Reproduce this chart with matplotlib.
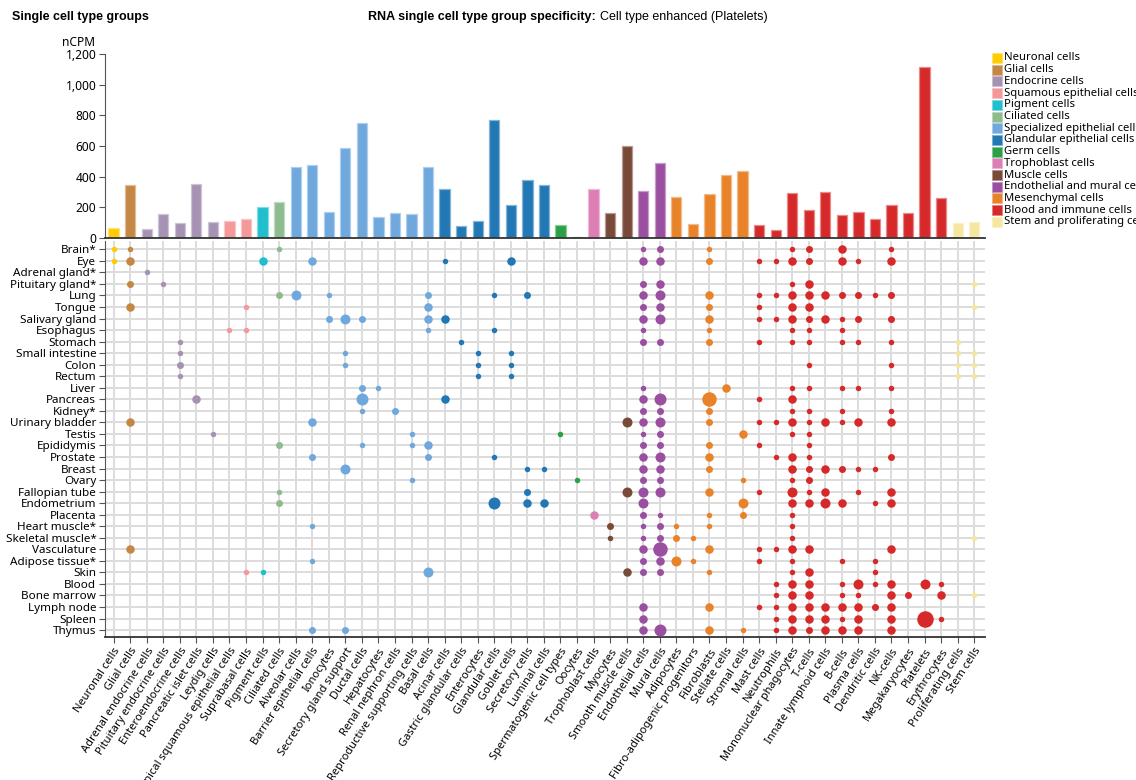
import matplotlib
matplotlib.use('Agg')
import matplotlib.pyplot as plt
from matplotlib.patches import Rectangle
from matplotlib.colors import to_rgb

# cell types along the x axis
cell_types = ['Neuronal cells', 'Glial cells', 'Adrenal endocrine cells', 'Pituitary endocrine cells',
              'Enteroendocrine cells', 'Pancreatic islet cells', 'Leydig cells',
              'Apical squamous epithelial cells', 'Suprabasal cells', 'Pigment cells', 'Ciliated cells',
              'Alveolar cells', 'Barrier epithelial cells', 'Ionocytes', 'Secretory gland support',
              'Ductal cells', 'Hepatocytes', 'Renal nephron cells', 'Reproductive supporting cells',
              'Basal cells', 'Acinar cells', 'Gastric glandular cells', 'Enterocytes', 'Glandular cells',
              'Goblet cells', 'Secretory cells', 'Luminal cells', 'Spermatogenic cell types', 'Oocytes',
              'Trophoblast cells', 'Myocytes', 'Smooth muscle cells', 'Endothelial cells', 'Mural cells',
              'Adipocytes', 'Fibro-adipogenic progenitors', 'Fibroblasts', 'Stellate cells', 'Stromal cells',
              'Mast cells', 'Neutrophils', 'Mononuclear phagocytes', 'T-cells', 'Innate lymphoid cells',
              'B-cells', 'Plasma cells', 'Dendritic cells', 'NK-cells', 'Megakaryocytes', 'Platelets',
              'Erythrocytes', 'Proliferating cells', 'Stem cells']

group_names = ['Neuronal cells', 'Glial cells', 'Endocrine cells', 'Squamous epithelial cells',
               'Pigment cells', 'Ciliated cells', 'Specialized epithelial cells',
               'Glandular epithelial cells', 'Germ cells', 'Trophoblast cells', 'Muscle cells',
               'Endothelial and mural cells', 'Mesenchymal cells', 'Blood and immune cells',
               'Stem and proliferating cells']
group_colors = ['#ffcc00', '#c58744', '#a693b3', '#f4989a', '#1fbfce', '#8fbc8f', '#6fa8dc',
                '#2277b5', '#2ca045', '#dd7fb5', '#7a4a38', '#9a4fa0', '#e8832a', '#d62a2a', '#f5e6a0']

# group of each cell type
cell_groups = [0, 1, 2, 2, 2, 2, 2, 3, 3, 4, 5,
               6, 6, 6, 6, 6, 6, 6, 6, 6,
               7, 7, 7, 7, 7, 7, 7, 8, 8, 9, 10, 10, 11, 11,
               12, 12, 12, 12, 12,
               13, 13, 13, 13, 13, 13, 13, 13, 13, 13, 13, 13, 14, 14]

ncpm = [63, 345, 57, 155, 98, 351, 107, 109, 124, 199, 233,
        463, 478, 172, 585, 753, 140, 161, 155, 463,
        321, 76, 111, 772, 214, 380, 345, 83, 7, 319, 164, 602, 305, 491,
        266, 92, 288, 410, 439,
        83, 55, 292, 183, 301, 151, 172, 124, 218, 164, 1115, 264, 98, 107]

tissues = ['Brain*', 'Eye', 'Adrenal gland*', 'Pituitary gland*', 'Lung', 'Tongue', 'Salivary gland',
           'Esophagus', 'Stomach', 'Small intestine', 'Colon', 'Rectum', 'Liver', 'Pancreas', 'Kidney*',
           'Urinary bladder', 'Testis', 'Epididymis', 'Prostate', 'Breast', 'Ovary', 'Fallopian tube',
           'Endometrium', 'Placenta', 'Heart muscle*', 'Skeletal muscle*', 'Vasculature',
           'Adipose tissue*', 'Skin', 'Blood', 'Bone marrow', 'Lymph node', 'Spleen', 'Thymus']

# (cell type number, size level) per tissue
dots = {
    'Brain*': [(1, 1), (2, 1), (11, 1), (33, 1), (34, 2), (37, 1), (42, 1), (43, 2), (45, 3), (48, 1)],
    'Eye': [(1, 1), (2, 3), (10, 3), (13, 3), (21, 1), (25, 3), (33, 3), (34, 3), (37, 2), (40, 1),
            (41, 1), (42, 3), (43, 2), (45, 3), (46, 1), (48, 3)],
    'Adrenal gland*': [(3, 1)],
    'Pituitary gland*': [(2, 2), (4, 1), (33, 2), (34, 3), (42, 1), (43, 3), (53, 1)],
    'Lung': [(11, 2), (12, 4), (14, 1), (20, 2), (24, 1), (26, 2), (33, 3), (34, 4), (37, 3), (40, 1),
             (41, 1), (42, 3), (43, 3), (44, 3), (45, 2), (46, 2), (47, 1), (48, 2)],
    'Tongue': [(2, 3), (9, 1), (20, 3), (33, 2), (34, 3), (37, 2), (40, 1), (42, 3), (43, 3), (53, 1)],
    'Salivary gland': [(14, 2), (15, 4), (16, 2), (20, 3), (21, 3), (33, 3), (34, 4), (37, 3), (40, 1),
                       (41, 1), (42, 3), (43, 2), (44, 3), (45, 1), (46, 2), (48, 2)],
    'Esophagus': [(8, 1), (9, 1), (20, 1), (24, 1), (33, 1), (37, 1), (42, 1), (43, 1), (45, 1)],
    'Stomach': [(5, 1), (22, 1), (33, 2), (34, 2), (37, 2), (40, 1), (42, 1), (43, 1), (45, 1),
                (46, 1), (48, 1), (52, 1)],
    'Small intestine': [(5, 1), (15, 1), (23, 1), (25, 1), (52, 1), (53, 1)],
    'Colon': [(5, 2), (15, 1), (23, 1), (25, 1), (43, 1), (48, 1), (52, 1), (53, 1)],
    'Rectum': [(5, 1), (23, 1), (25, 1), (52, 1), (53, 1)],
    'Liver': [(16, 2), (17, 1), (33, 1), (38, 3), (42, 1), (43, 1), (45, 1), (46, 1), (48, 1)],
    'Pancreas': [(6, 3), (16, 5), (21, 3), (33, 3), (34, 5), (37, 6), (40, 1), (42, 3)],
    'Kidney*': [(16, 1), (18, 2), (33, 2), (34, 2), (37, 2), (42, 1), (43, 1), (45, 1), (48, 1)],
    'Urinary bladder': [(2, 3), (13, 3), (32, 4), (33, 3), (34, 4), (37, 2), (40, 1), (41, 1), (42, 3),
                        (43, 1), (44, 3), (45, 1), (46, 3), (48, 3)],
    'Testis': [(7, 1), (19, 1), (28, 1), (33, 1), (34, 2), (39, 3), (42, 1), (43, 1)],
    'Epididymis': [(11, 2), (16, 1), (19, 1), (20, 3), (33, 2), (34, 2), (37, 2), (40, 1), (43, 1)],
    'Prostate': [(13, 2), (20, 2), (24, 1), (33, 3), (34, 4), (37, 3), (41, 1), (42, 3), (43, 1), (48, 2)],
    'Breast': [(15, 4), (26, 1), (27, 1), (33, 3), (34, 3), (37, 2), (42, 3), (43, 2), (44, 3), (45, 2),
               (46, 1), (47, 1)],
    'Ovary': [(19, 1), (29, 1), (33, 2), (34, 2), (39, 1), (42, 1), (43, 2)],
    'Fallopian tube': [(11, 1), (26, 2), (32, 4), (33, 4), (34, 4), (37, 3), (40, 1), (42, 4), (43, 1),
                       (44, 3), (46, 1), (48, 3)],
    'Endometrium': [(11, 2), (24, 5), (26, 3), (27, 3), (33, 4), (39, 4), (42, 3), (43, 3), (44, 4),
                    (45, 3), (47, 1), (48, 3)],
    'Placenta': [(30, 3), (33, 2), (34, 1), (37, 1), (39, 2), (42, 1)],
    'Heart muscle*': [(13, 1), (31, 2), (33, 1), (34, 2), (35, 1), (37, 1), (42, 1)],
    'Skeletal muscle*': [(31, 1), (33, 1), (34, 2), (35, 2), (36, 1), (42, 1), (53, 1)],
    'Vasculature': [(2, 3), (33, 3), (34, 6), (37, 3), (40, 1), (41, 1), (42, 3), (43, 3), (48, 3)],
    'Adipose tissue*': [(13, 1), (33, 2), (34, 3), (35, 4), (36, 1), (40, 1), (42, 1), (45, 1), (47, 1)],
    'Skin': [(9, 1), (10, 1), (20, 4), (32, 3), (33, 2), (34, 2), (37, 1), (42, 1), (43, 3), (47, 1)],
    'Blood': [(41, 1), (42, 3), (43, 3), (45, 1), (46, 4), (47, 1), (48, 3), (50, 4), (51, 1)],
    'Bone marrow': [(41, 1), (42, 3), (43, 3), (45, 1), (46, 1), (48, 3), (49, 2), (51, 3), (53, 1)],
    'Lymph node': [(33, 3), (37, 3), (40, 1), (41, 1), (42, 3), (43, 3), (44, 3), (45, 3), (46, 3),
                   (47, 2), (48, 3)],
    'Spleen': [(33, 3), (41, 1), (42, 3), (43, 3), (44, 3), (45, 1), (46, 3), (48, 3), (50, 7), (51, 1)],
    'Thymus': [(13, 2), (15, 2), (33, 3), (34, 5), (37, 3), (39, 1), (41, 1), (42, 3), (43, 2), (44, 3),
               (45, 3), (46, 3), (48, 3)],
}

# dot diameter in pixels for each size level
level_px = {1: 5.5, 2: 7, 3: 8.5, 4: 10, 5: 12, 6: 14.5, 7: 16.5}

plt.rcParams['font.family'] = ['Noto Sans', 'DejaVu Sans']
W, H = 1136, 780
fig = plt.figure(figsize=(W / 100, H / 100), dpi=100)

cell_colors = [group_colors[g] for g in cell_groups]
edge_colors = [tuple(0.55 * c + 0.45 for c in to_rgb(col)) for col in cell_colors]
xs = list(range(len(cell_types)))
xlim = (-0.52, 52.65)
ax_left, ax_w = 105 / W, 880 / W

# bar chart
ax_bar = fig.add_axes([ax_left, 1 - 238 / H, ax_w, (238 - 54) / H])
ax_bar.bar(xs, ncpm, width=0.62, color=cell_colors, edgecolor=edge_colors, linewidth=0.9, zorder=2)
ax_bar.set_xlim(*xlim)
ax_bar.set_ylim(0, 1200)
ax_bar.set_yticks(range(0, 1201, 200))
ax_bar.set_yticklabels([f'{v:,}' for v in range(0, 1201, 200)], fontsize=8.6)
ax_bar.set_xticks([])
for s in ['top', 'right']:
    ax_bar.spines[s].set_visible(False)
ax_bar.spines['left'].set_color('#555555')
ax_bar.spines['bottom'].set_color('#333333')
ax_bar.spines['bottom'].set_linewidth(1.3)
ax_bar.tick_params(axis='y', length=4.3, color='#555555', pad=2)
fig.text(62 / W, 1 - 42 / H, 'nCPM', fontsize=8.6, va='center')

# dot matrix
ax_dot = fig.add_axes([ax_left, 1 - 637 / H, ax_w, (637 - 241) / H])
for i, t in enumerate(tissues):
    for c, lvl in dots[t]:
        d = level_px[lvl] * 0.72
        ax_dot.scatter(c - 1, i, s=d * d, color=cell_colors[c - 1], linewidths=0, zorder=3)
ax_dot.set_xlim(*xlim)
ax_dot.set_ylim(33.6, -0.72)
ax_dot.set_xticks(xs)
ax_dot.set_xticklabels(cell_types, rotation=57, ha='right', rotation_mode='anchor', fontsize=8.0)
ax_dot.set_yticks(range(len(tissues)))
ax_dot.set_yticklabels(tissues, fontsize=8.4)
ax_dot.grid(True, color='#dcdcdc', linewidth=1.4)
ax_dot.set_axisbelow(True)
for s in ['top', 'right']:
    ax_dot.spines[s].set_visible(False)
ax_dot.spines['left'].set_color('#555555')
ax_dot.spines['bottom'].set_color('#333333')
ax_dot.spines['bottom'].set_linewidth(1.3)
ax_dot.tick_params(length=4.3, color='#555555', pad=2)

# legend
for i, (name, col) in enumerate(zip(group_names, group_colors)):
    yc = 58 + i * 11.7
    fig.patches.append(Rectangle((992 / W, 1 - (yc + 5) / H), 10 / W, 10 / H,
                                 transform=fig.transFigure, facecolor=col,
                                 edgecolor=tuple(0.6 * c + 0.4 for c in to_rgb(col)), linewidth=0.6))
    fig.text(1004 / W, 1 - yc / H, name, fontsize=8.1, va='center')

# titles
fig.text(12 / W, 1 - 17 / H, 'Single cell type groups', fontsize=9, fontweight='bold',
         family='Liberation Sans', va='center')
t1 = fig.text(368 / W, 1 - 17 / H, 'RNA single cell type group specificity:', fontsize=9,
              fontweight='bold', family='Liberation Sans', va='center')
fig.canvas.draw()
bb = t1.get_window_extent()
fig.text((bb.x1 + 4) / W, 1 - 17 / H, 'Cell type enhanced (Platelets)', fontsize=9,
         family='Liberation Sans', va='center')

fig.savefig('out.png', dpi=100)
